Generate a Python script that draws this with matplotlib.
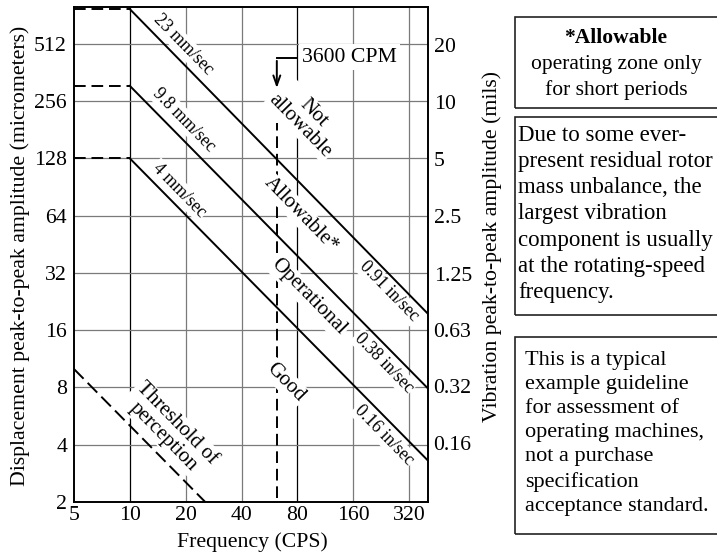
import math

import matplotlib
matplotlib.use("Agg")
import matplotlib.pyplot as plt
from matplotlib.patches import Rectangle
from matplotlib.ticker import NullLocator

plt.rcParams["font.family"] = ["Liberation Serif", "DejaVu Serif"]

# axes ticks
freq_ticks = [5, 10, 20, 40, 80, 160, 320]
disp_ticks = [2, 4, 8, 16, 32, 64, 128, 256, 512]
mils_ticks = [0.16, 0.32, 0.63, 1.25, 2.5, 5, 10, 20]
mils_labels = ["0.16", "0.32", "0.63", "1.25", "2.5", "5", "10", "20"]

# constant-velocity lines (flat below 10 CPS, falling above)
vel_mm = ["23 mm/sec", "9.8 mm/sec", "4 mm/sec"]
vel_in = ["0.91 in/sec", "0.38 in/sec", "0.16 in/sec"]
flat_freq = [5, 10]
line_freq = [10, 405]
line_disp = [[780, 19.5], [308, 7.9], [128, 3.3]]

# threshold of perception
threshold_freq = [5, 25.5]
threshold_disp = [10, 2]

# 3600 CPM marker
cpm_freq = 62
cpm_disp = [2.1, 197]

zones = ["Not\nallowable", "Allowable*", "Operational", "Good"]

W, H = 717, 557
FS = 15.7


def fx(px):
    return px / W


def fy(py):
    return 1 - py / H


fig = plt.figure(figsize=(W / 100, H / 100), dpi=100)
ax = fig.add_axes([fx(74), fy(502), fx(428) - fx(74), fy(7) - fy(502)])
ax.set_xscale("log")
ax.set_yscale("log")
ax.set_xlim(5, 405)
ax.set_ylim(2, 800)
ax.xaxis.set_minor_locator(NullLocator())
ax.yaxis.set_minor_locator(NullLocator())
ax.set_xticks(freq_ticks, [str(v) for v in freq_ticks])
ax.set_yticks(disp_ticks, [str(v) for v in disp_ticks])
ax.tick_params(length=0, labelsize=FS)
ax.tick_params(axis="x", pad=3)
ax.tick_params(axis="y", pad=5)
for s in ax.spines.values():
    s.set_linewidth(1.4)
    s.set_zorder(5)

# grid: the 10 and 80 CPS lines are drawn black
for f in freq_ticks[1:]:
    c = "black" if f in (10, 80) else "#7a7a7a"
    ax.axvline(f, color=c, lw=0.9, zorder=1)
for d in disp_ticks[1:]:
    ax.axhline(d, color="#7a7a7a", lw=0.9, zorder=1)

dash = (0, (6, 3))
for disp in line_disp:
    ax.plot(flat_freq, [disp[0], disp[0]], color="black", lw=1.4, linestyle=dash, zorder=3)
    ax.plot(line_freq, disp, color="black", lw=1.4, zorder=3)
ax.plot(threshold_freq, threshold_disp, color="black", lw=1.4, linestyle=(0, (7, 3)), zorder=3)
ax.plot([cpm_freq, cpm_freq], cpm_disp, color="black", lw=1.4, linestyle=dash, zorder=1.5)

# arrow from the 3600 CPM label
ax.plot([79.7, cpm_freq], [431, 431], color="black", lw=1.4, zorder=3)
ax.annotate("", xy=(cpm_freq, 290), xytext=(cpm_freq, 431), zorder=3,
            arrowprops=dict(arrowstyle="->,head_length=0.7,head_width=0.25", lw=1.4, color="black"))
ax.text(84.7, 436, "3600 CPM", fontsize=FS, ha="left", va="center", zorder=2,
        bbox=dict(boxstyle="square,pad=0.15", fc="white", ec="none"))

p1 = ax.transData.transform((line_freq[0], line_disp[0][0]))
p2 = ax.transData.transform((line_freq[1], line_disp[0][1]))
ang = math.degrees(math.atan2(p2[1] - p1[1], p2[0] - p1[0]))

wbox = dict(boxstyle="square,pad=0.08", fc="white", ec="none")
k = 1.04  # nudge labels off their lines
for lab, (x, y) in zip(vel_mm, [(18.6, 487), (18.9, 196), (17.7, 84)]):
    ax.text(x * k, y * k, lab, fontsize=12.8, rotation=ang, ha="center", va="center",
            rotation_mode="anchor", bbox=wbox, zorder=2)
for lab, (x, y) in zip(vel_in, [(259, 26.7), (243, 11.2), (243, 4.67)]):
    ax.text(x / k, y / k, lab, fontsize=12.8, rotation=ang, ha="center", va="center",
            rotation_mode="anchor", bbox=wbox, zorder=2)
for lab, (x, y) in zip(zones, [(90, 206), (83.7, 64.5), (91.3, 23.9), (69.5, 8.5)]):
    ax.text(x, y, lab, fontsize=15, rotation=ang, ha="center", va="center",
            rotation_mode="anchor", multialignment="center", linespacing=0.95,
            bbox=wbox, zorder=2)
ax.text(16.5, 4.78, "Threshold of\nperception", fontsize=15, rotation=ang, ha="center",
        va="center", rotation_mode="anchor", multialignment="center", linespacing=0.95,
        bbox=wbox, zorder=2)

# right axis in mils
ax2 = ax.twinx()
ax2.set_yscale("log")
ax2.set_ylim(ax.get_ylim())
ax2.yaxis.set_minor_locator(NullLocator())
ax2.set_yticks([m * 25.4 for m in mils_ticks], mils_labels)
ax2.tick_params(length=0, labelsize=FS, pad=4)
for s in ax2.spines.values():
    s.set_visible(False)

fig.text(fx(20), fy(256), "Displacement peak-to-peak amplitude (micrometers)",
         rotation=90, ha="center", va="center", fontsize=FS)
fig.text(fx(492), fy(247), "Vibration peak-to-peak amplitude (mils)",
         rotation=90, ha="center", va="center", fontsize=FS)
fig.text(fx(252), fy(542), "Frequency (CPS)", ha="center", va="center", fontsize=FS)

# note boxes
for top, bot in [(17, 108), (117, 315), (337, 534)]:
    fig.add_artist(Rectangle((fx(515), fy(bot)), fx(724) - fx(515), fy(top) - fy(bot),
                             transform=fig.transFigure, fill=False, ec="#222222", lw=1.2))
fig.text(fx(616), fy(38), "*Allowable", ha="center", va="center", fontsize=15.5, weight="bold")
fig.text(fx(616), fy(77.5), "operating zone only\nfor short periods", ha="center",
         va="center", fontsize=15.5, linespacing=1.4)
fig.text(fx(518), fy(214), "Due to some ever-\npresent residual rotor\nmass unbalance, the\n"
         "largest vibration\ncomponent is usually\nat the rotating-speed\nfrequency.",
         ha="left", va="center", fontsize=16.5, linespacing=1.32)
fig.text(fx(525), fy(433.5), "This is a typical\nexample guideline\nfor assessment of\n"
         "operating machines,\nnot a purchase\nspecification\nacceptance standard.",
         ha="left", va="center", fontsize=16, linespacing=1.36)

fig.savefig("out.png", dpi=100)
